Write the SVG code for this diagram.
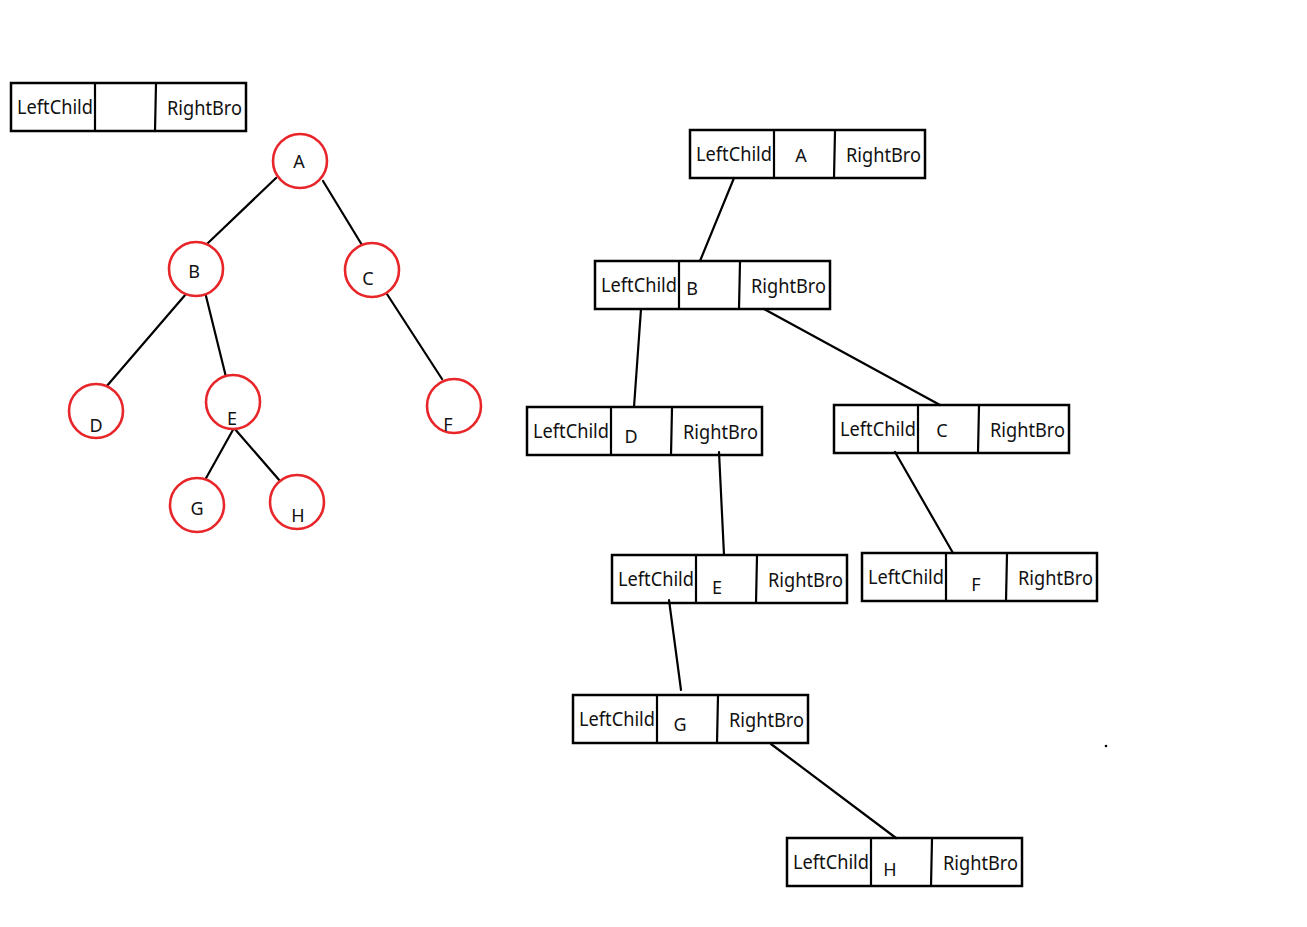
<svg xmlns="http://www.w3.org/2000/svg" width="1307" height="927" viewBox="0 0 1307 927">
<style>
.box{fill:none;stroke:#000;stroke-width:2.5}
.div{stroke:#000;stroke-width:2.2}
.t{font-family:"Noto Sans","Open Sans","DejaVu Sans",sans-serif;font-size:19px;fill:#111}
.c{fill:#fff;stroke:#e8262a;stroke-width:2.6}
.cl{font-family:"Noto Sans","Open Sans","DejaVu Sans",sans-serif;font-size:18px;fill:#111;text-anchor:middle}
.ln{stroke:#000;stroke-width:2.2;stroke-linecap:round;fill:none}
</style>
<rect width="1307" height="927" fill="#fff"/>
<defs>
<g id="rec">
<rect class="box" x="0" y="0" width="235" height="48"/>
<line class="div" x1="84" y1="0" x2="84" y2="48"/>
<line class="div" x1="145" y1="1" x2="144" y2="48"/>
<text class="t" x="6" y="31" textLength="76" lengthAdjust="spacingAndGlyphs">LeftChild</text>
<text class="t" x="156" y="32" textLength="75" lengthAdjust="spacingAndGlyphs">RightBro</text>
</g>
</defs>
<g id="connectors">
<line class="ln" x1="276" y1="178" x2="208" y2="243"/>
<line class="ln" x1="323" y1="181" x2="362" y2="245"/>
<line class="ln" x1="186" y1="294" x2="106" y2="387"/>
<line class="ln" x1="205" y1="292" x2="226" y2="377"/>
<line class="ln" x1="385" y1="291" x2="442" y2="379"/>
<line class="ln" x1="234" y1="428" x2="205" y2="480"/>
<line class="ln" x1="234" y1="428" x2="280" y2="481"/>
<line class="ln" x1="734" y1="178" x2="700" y2="261"/>
<line class="ln" x1="641" y1="309" x2="634" y2="407"/>
<line class="ln" x1="764" y1="309" x2="940" y2="405"/>
<line class="ln" x1="719" y1="452" x2="724" y2="555"/>
<line class="ln" x1="895" y1="452" x2="953" y2="553"/>
<line class="ln" x1="669" y1="600" x2="681" y2="690"/>
<line class="ln" x1="771" y1="744" x2="896" y2="838"/>
</g>
<g id="legend"><use href="#rec" x="11" y="83"/></g>
<g id="cA"><circle class="c" cx="300" cy="161" r="27"/><text class="cl" x="299" y="168">A</text></g>
<g id="cB"><circle class="c" cx="196" cy="269" r="27"/><text class="cl" x="194" y="278">B</text></g>
<g id="cC"><circle class="c" cx="372" cy="270" r="27"/><text class="cl" x="368" y="285">C</text></g>
<g id="cD"><circle class="c" cx="96" cy="411" r="27"/><text class="cl" x="96" y="432">D</text></g>
<g id="cE"><circle class="c" cx="233" cy="402" r="27"/><text class="cl" x="232" y="425">E</text></g>
<g id="cF"><circle class="c" cx="454" cy="406" r="27"/><text class="cl" x="448" y="431">F</text></g>
<g id="cG"><circle class="c" cx="197" cy="505" r="27"/><text class="cl" x="197" y="515">G</text></g>
<g id="cH"><circle class="c" cx="297" cy="502" r="27"/><text class="cl" x="298" y="522">H</text></g>
<g id="nA"><use href="#rec" x="690" y="130"/><text class="cl" x="801" y="162">A</text></g>
<g id="nB"><use href="#rec" x="595" y="261"/><text class="cl" x="692" y="295">B</text></g>
<g id="nD"><use href="#rec" x="527" y="407"/><text class="cl" x="631" y="443">D</text></g>
<g id="nC"><use href="#rec" x="834" y="405"/><text class="cl" x="942" y="437">C</text></g>
<g id="nE"><use href="#rec" x="612" y="555"/><text class="cl" x="717" y="594">E</text></g>
<g id="nF"><use href="#rec" x="862" y="553"/><text class="cl" x="976" y="591">F</text></g>
<g id="nG"><use href="#rec" x="573" y="695"/><text class="cl" x="680" y="731">G</text></g>
<g id="nH"><use href="#rec" x="787" y="838"/><text class="cl" x="890" y="876">H</text></g>
<circle cx="1106" cy="746" r="1.3" fill="#000"/>
</svg>
